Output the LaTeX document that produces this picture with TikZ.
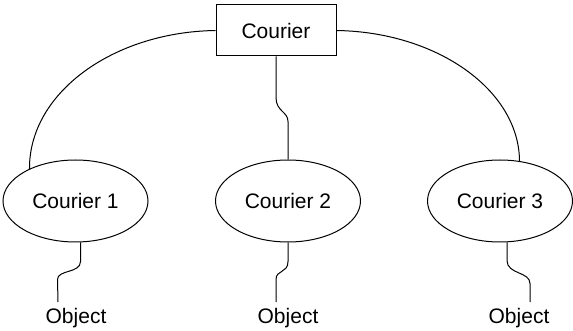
\documentclass[tikz,border=0pt]{standalone}
\usepackage{fontspec}
\setmainfont{Liberation Sans}
\usetikzlibrary{shapes.geometric}

\begin{document}
\begin{tikzpicture}[x=1pt,y=-1pt,font=\fontsize{21}{25}\selectfont,
  hub/.style={draw,line width=1pt,minimum width=120pt,minimum height=51pt,inner sep=0pt},
  sub/.style={draw,ellipse,line width=1pt,minimum width=145pt,minimum height=82pt,inner sep=0pt},
  obj/.style={anchor=north,inner xsep=0pt,inner ysep=6pt},
  ln/.style={line width=1pt}]
\useasboundingbox (0,0) rectangle (573,331);
\node[hub] (c) at (276,30.5) {Courier};
\node[sub] (c1) at (75.5,201) {Courier 1};
\node[sub] (c2) at (288,201) {Courier 2};
\node[sub] (c3) at (500,201) {Courier 3};
\node[obj] (o1) at (76,302) {Object};
\node[obj] (o2) at (288,302) {Object};
\node[obj] (o3) at (519,302) {Object};
\draw[ln] (c.west) .. controls (113,32) and (29,93) .. (c1.145);
\draw[ln] (c.east) .. controls (437,32) and (519,90) .. (c3.64);
\draw[ln] (c.south) -- ++(0,41) .. controls +(0,14) and +(0,-10) .. ++(12,24) -- (c2.north);
\draw[ln] ([xshift=5pt]c1.south) -- ++(0,19) .. controls +(0,12) and +(0,-10) .. ++(-23,18) -- ([xshift=-18pt]o1.north);
\draw[ln] (c2.south) -- ++(0,19) .. controls +(0,12) and +(0,-10) .. ++(-12,18) -- ([xshift=-12pt]o2.north);
\draw[ln] ([xshift=7pt]c3.south) -- ++(0,18) .. controls +(0,14) and +(0,-12) .. ++(23,23) -- ([xshift=11pt]o3.north);
\end{tikzpicture}
\end{document}
